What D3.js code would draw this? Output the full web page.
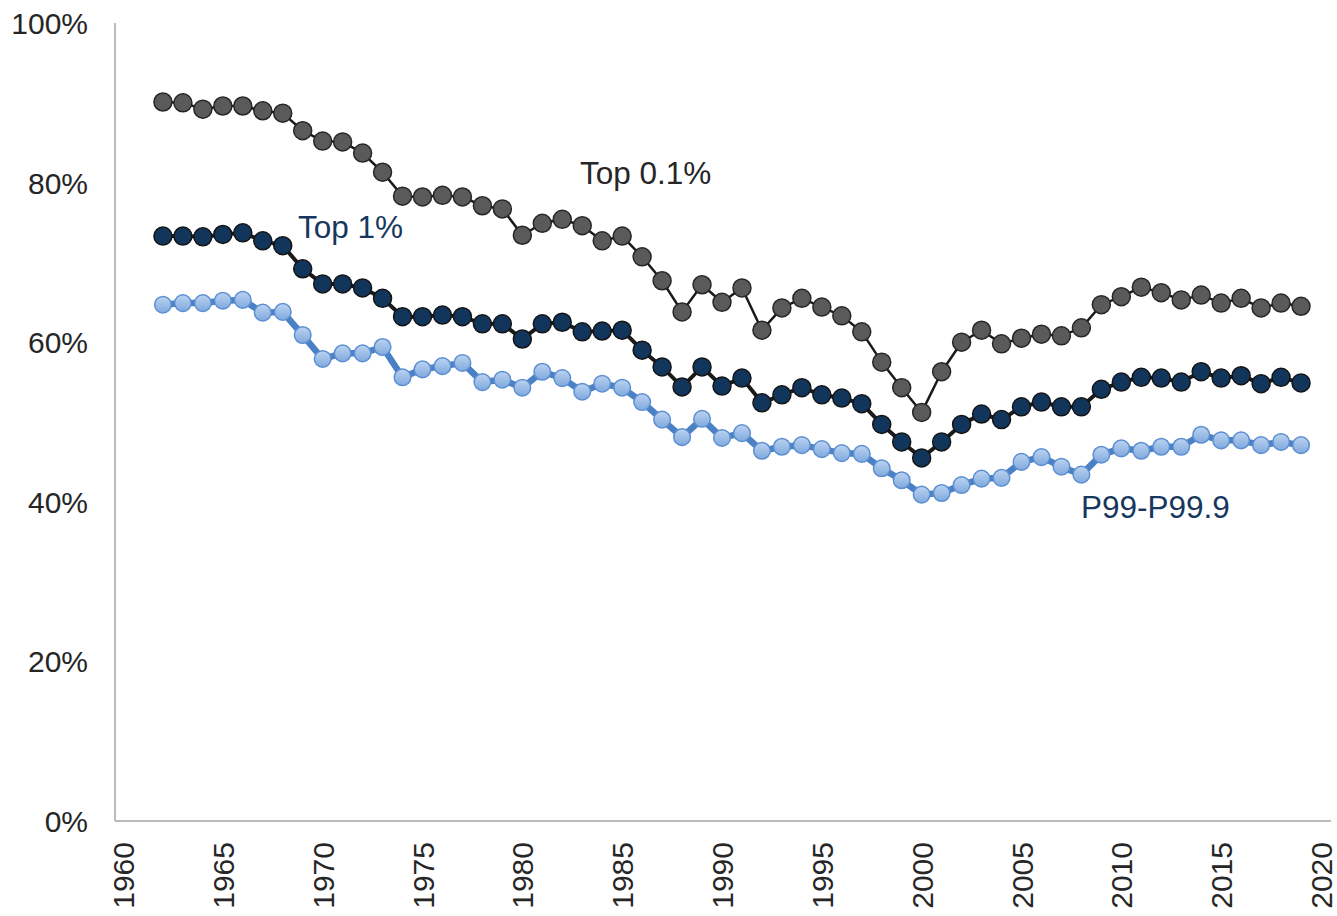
<!DOCTYPE html>
<html>
<head>
<meta charset="utf-8">
<script src="https://cdn.jsdelivr.net/npm/d3@7"></script>
<style>
  body { margin: 0; background: #fff; }
  text { font-family: "Liberation Sans", Arial, sans-serif; }
</style>
</head>
<body>
<div id="chart"></div>
<script>
const years = d3.range(1962, 2020);

const top01 = [90.1, 90.0, 89.2, 89.6, 89.6, 89.0, 88.7, 86.5, 85.2, 85.1,
  83.7, 81.3, 78.3, 78.2, 78.4, 78.2, 77.1, 76.7, 73.4, 74.9,
  75.4, 74.6, 72.7, 73.3, 70.7, 67.7, 63.8, 67.2, 65.0, 66.8,
  61.5, 64.3, 65.5, 64.4, 63.3, 61.3, 57.5, 54.3, 51.2, 56.3,
  60.0, 61.5, 59.8, 60.5, 61.0, 60.8, 61.8, 64.7, 65.7, 66.9,
  66.2, 65.3, 65.9, 64.9, 65.5, 64.3, 64.9, 64.5];

const top1 = [73.3, 73.3, 73.2, 73.5, 73.7, 72.7, 72.1, 69.2, 67.3, 67.3,
  66.8, 65.5, 63.2, 63.2, 63.4, 63.2, 62.3, 62.3, 60.4, 62.3,
  62.5, 61.3, 61.4, 61.5, 59.0, 56.9, 54.4, 56.9, 54.5, 55.5,
  52.4, 53.4, 54.3, 53.4, 53.0, 52.3, 49.7, 47.5, 45.5, 47.5,
  49.7, 51.0, 50.3, 51.9, 52.5, 51.9, 51.9, 54.1, 55.0, 55.6,
  55.5, 55.0, 56.3, 55.5, 55.8, 54.8, 55.6, 54.9];

const p99to999 = [64.7, 64.9, 64.9, 65.2, 65.3, 63.7, 63.8, 60.9, 57.9, 58.6,
  58.6, 59.4, 55.6, 56.6, 57.0, 57.4, 55.0, 55.3, 54.3, 56.3,
  55.5, 53.8, 54.8, 54.3, 52.5, 50.3, 48.1, 50.4, 48.0, 48.6,
  46.4, 46.9, 47.1, 46.6, 46.1, 46.0, 44.2, 42.7, 40.9, 41.1,
  42.1, 42.9, 43.0, 45.0, 45.6, 44.4, 43.4, 45.9, 46.7, 46.4,
  46.9, 46.9, 48.4, 47.7, 47.7, 47.1, 47.5, 47.1];

const xTicks = d3.range(1960, 2021, 5);
const yTicks = [0, 20, 40, 60, 80, 100];

const W = 1337, H = 916;
const svg = d3.select("#chart").append("svg")
  .attr("width", W)
  .attr("height", H);

const defs = svg.append("defs");
const grad = defs.append("linearGradient")
  .attr("id", "lightFill")
  .attr("x1", 0).attr("y1", 0).attr("x2", 0).attr("y2", 1);
grad.append("stop").attr("offset", "0%").attr("stop-color", "#bcd3f0");
grad.append("stop").attr("offset", "100%").attr("stop-color", "#7fa9de");

const x = d3.scaleLinear().domain([1960, 2020]).range([123, 1321]);
const y = d3.scaleLinear().domain([0, 100]).range([821, 23]);

// axes
const xAxis = svg.append("g")
  .attr("transform", `translate(0,${y(0)})`)
  .call(d3.axisBottom(x).tickValues(xTicks).tickSize(0).tickFormat(d3.format("d")));
xAxis.select(".domain").remove();
xAxis.selectAll("text")
  .attr("transform", "rotate(-90)")
  .attr("x", -21)
  .attr("y", 0)
  .attr("dy", "0.35em")
  .style("text-anchor", "end")
  .style("font-size", "30px")
  .attr("fill", "#262626");

const yAxis = svg.append("g")
  .attr("transform", `translate(${x(1960) - 8},0)`)
  .call(d3.axisLeft(y).tickValues(yTicks).tickSize(0).tickFormat(d => d + "%"));
yAxis.select(".domain").remove();
yAxis.selectAll("text")
  .attr("x", -27)
  .attr("dy", "0.35em")
  .style("font-size", "30px")
  .attr("fill", "#262626");

svg.append("line")
  .attr("x1", x(1960) - 8).attr("x2", x(1960) - 8)
  .attr("y1", y(100)).attr("y2", y(0))
  .attr("stroke", "#a6a6a6").attr("stroke-width", 1.5);
svg.append("line")
  .attr("x1", x(1960) - 8).attr("x2", x(2020) + 10)
  .attr("y1", y(0)).attr("y2", y(0))
  .attr("stroke", "#a6a6a6").attr("stroke-width", 1.5);

function drawSeries(values, opts) {
  const data = years.map((yr, i) => ({ year: yr, value: values[i] }));
  const line = d3.line()
    .x(d => x(d.year))
    .y(d => y(d.value));
  svg.append("path")
    .datum(data)
    .attr("fill", "none")
    .attr("stroke", opts.lineColor)
    .attr("stroke-width", opts.lineWidth)
    .attr("stroke-linejoin", "round")
    .attr("d", line);
  svg.append("g").selectAll("circle")
    .data(data)
    .join("circle")
    .attr("cx", d => x(d.year))
    .attr("cy", d => y(d.value))
    .attr("r", opts.r)
    .attr("fill", opts.fill)
    .attr("stroke", opts.stroke)
    .attr("stroke-width", opts.strokeWidth);
}

drawSeries(top01, { lineColor: "#1a1a1a", lineWidth: 2.5, r: 9, fill: "#5a5a5a", stroke: "#262626", strokeWidth: 1.5 });
drawSeries(top1, { lineColor: "#1a1a1a", lineWidth: 4, r: 9, fill: "#12355b", stroke: "#141414", strokeWidth: 1.5 });
drawSeries(p99to999, { lineColor: "#4a80c4", lineWidth: 6.5, r: 8.3, fill: "url(#lightFill)", stroke: "#5c8fd2", strokeWidth: 1.5 });

// labels
svg.append("text")
  .attr("x", 580).attr("y", 184)
  .attr("fill", "#262626")
  .style("font-size", "31.5px")
  .text("Top 0.1%");
svg.append("text")
  .attr("x", 298).attr("y", 238)
  .attr("fill", "#17375e")
  .style("font-size", "31.5px")
  .text("Top 1%");
svg.append("text")
  .attr("x", 1081).attr("y", 518)
  .attr("fill", "#17375e")
  .style("font-size", "31.5px")
  .text("P99-P99.9");
</script>
</body>
</html>
